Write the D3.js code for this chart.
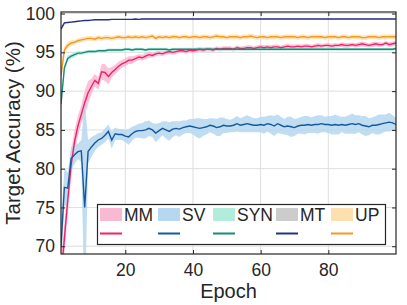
<!DOCTYPE html>
<html>
<head>
<meta charset="utf-8">
<script src="https://cdn.jsdelivr.net/npm/d3@7"></script>
<style>
  body { margin: 0; background: #fff; }
  text { font-family: "Liberation Sans", Arial, Helvetica, sans-serif; fill: #262626; }
</style>
</head>
<body>
<div id="chart"></div>
<script>
// data (mean and spread per epoch)
const epochs = d3.range(1, 101);
const seriesNames = ["MM", "SV", "SYN", "MT", "UP"];

const mmMean = [66.0, 71.0, 76.0, 80.5, 83.5, 85.5, 87.0, 88.5, 89.8, 90.6,
  91.4, 91.0, 92.5, 92.4, 91.9, 92.4, 92.8, 93.2, 93.5, 93.7,
  94.0, 94.0, 94.2, 94.4, 94.3, 94.5, 94.7, 94.6, 94.8, 94.9,
  94.8, 95.0, 95.1, 95.0, 95.1, 95.2, 95.2, 95.1, 95.3, 95.2,
  95.3, 95.4, 95.3, 95.4, 95.4, 95.3, 95.5, 95.4, 95.5, 95.5,
  95.5, 95.4, 95.6, 95.5, 95.5, 95.6, 95.6, 95.5, 95.6, 95.7,
  95.6, 95.7, 95.6, 95.7, 95.7, 95.6, 95.7, 95.8, 95.7, 95.7,
  95.8, 95.7, 95.8, 95.8, 95.7, 95.8, 95.9, 95.8, 95.9, 95.9,
  95.8, 95.9, 95.9, 96.0, 95.9, 95.9, 96.0, 95.9, 96.0, 96.1,
  96.0, 95.9, 96.0, 96.1, 96.0, 96.0, 96.2, 96.0, 96.1, 96.2];
const mmStd = [2.0, 2.0, 1.8, 1.8, 1.5, 1.3, 1.2, 1.5, 1.5, 1.0,
  0.8, 0.8, 1.0, 1.1, 1.0, 0.7, 0.6, 0.6, 0.5, 0.5,
  0.5, 0.5, 0.4, 0.4, 0.4, 0.4, 0.4, 0.3, 0.3, 0.3,
  0.3, 0.3, 0.3, 0.3, 0.3, 0.3, 0.3, 0.3, 0.3, 0.3,
  0.3, 0.3, 0.3, 0.3, 0.3, 0.3, 0.3, 0.3, 0.3, 0.3,
  0.3, 0.3, 0.3, 0.25, 0.3, 0.3, 0.3, 0.25, 0.3, 0.3,
  0.3, 0.25, 0.3, 0.3, 0.3, 0.25, 0.3, 0.3, 0.3, 0.3,
  0.25, 0.3, 0.3, 0.3, 0.25, 0.3, 0.3, 0.3, 0.25, 0.3,
  0.3, 0.3, 0.25, 0.3, 0.3, 0.3, 0.25, 0.3, 0.3, 0.3,
  0.3, 0.25, 0.3, 0.3, 0.3, 0.25, 0.3, 0.3, 0.3, 0.3];

const svMean = [70.0, 77.6, 77.5, 81.3, 81.8, 82.2, 82.3, 75.0, 82.2, 82.8,
  83.3, 83.7, 83.9, 84.3, 84.8, 83.7, 84.5, 84.4, 84.4, 84.2,
  84.1, 84.5, 84.8, 84.9, 84.9, 85.0, 85.2, 85.0, 84.6, 84.9,
  85.2, 85.0, 84.8, 85.1, 85.2, 85.1, 85.3, 85.4, 85.5, 85.4,
  85.3, 85.2, 85.3, 85.4, 85.6, 85.5, 85.3, 85.4, 85.6, 85.5,
  85.5, 85.6, 85.8, 85.6, 85.7, 85.8, 85.7, 85.6, 85.6, 85.7,
  85.6, 85.8, 85.7, 85.5, 85.8, 85.6, 85.4, 85.5, 85.4, 85.3,
  85.5, 85.6, 85.6, 85.7, 85.6, 85.7, 85.7, 85.8, 85.7, 85.7,
  85.6, 85.7, 85.6, 85.7, 85.6, 85.7, 85.8, 85.7, 85.8, 85.6,
  85.5, 85.4, 85.6, 85.6, 85.7, 85.8, 85.9, 86.0, 85.9, 85.7];
const svStd = [3.0, 2.5, 2.0, 1.5, 1.2, 1.0, 1.4, 14.0, 1.5, 1.3,
  1.0, 0.9, 0.8, 0.9, 0.9, 1.1, 0.8, 0.7, 0.7, 0.8,
  1.0, 0.9, 0.8, 0.9, 1.0, 1.1, 1.0, 0.9, 1.2, 1.0,
  0.9, 1.1, 1.2, 1.0, 0.9, 1.0, 0.9, 0.8, 0.9, 1.0,
  1.2, 1.3, 1.1, 1.0, 0.9, 1.0, 1.1, 1.2, 1.0, 0.9,
  0.8, 0.9, 1.0, 0.9, 1.0, 1.1, 1.0, 0.9, 0.9, 1.0,
  1.1, 1.0, 1.2, 1.3, 1.2, 1.1, 1.0, 1.2, 1.3, 1.1,
  1.0, 1.1, 1.2, 1.1, 1.0, 1.1, 1.2, 1.1, 1.0, 1.1,
  1.2, 1.3, 1.2, 1.0, 1.1, 1.2, 1.3, 1.2, 1.1, 1.2,
  1.3, 1.1, 1.0, 1.2, 1.3, 1.2, 1.1, 1.2, 1.0, 0.9];

const synMean = [88.3, 93.0, 94.2, 94.5, 94.7, 94.9, 94.9, 95.0, 95.1, 95.1,
  95.1, 95.2, 95.2, 95.2, 95.3, 95.3, 95.3, 95.3, 95.3, 95.4,
  95.4, 95.3, 95.4, 95.4, 95.4, 95.3, 95.4, 95.4, 95.4, 95.4,
  95.4, 95.4, 95.3, 95.4, 95.4, 95.4, 95.4, 95.4, 95.4, 95.4,
  95.4, 95.4, 95.4, 95.4, 95.4, 95.4, 95.4, 95.4, 95.4, 95.4,
  95.4, 95.4, 95.4, 95.4, 95.4, 95.4, 95.4, 95.4, 95.4, 95.4,
  95.4, 95.4, 95.4, 95.4, 95.4, 95.4, 95.4, 95.4, 95.4, 95.4,
  95.4, 95.4, 95.4, 95.4, 95.4, 95.4, 95.4, 95.4, 95.4, 95.4,
  95.4, 95.4, 95.4, 95.4, 95.4, 95.4, 95.4, 95.4, 95.4, 95.4,
  95.4, 95.4, 95.4, 95.4, 95.4, 95.4, 95.4, 95.4, 95.4, 95.5];
const synStd = [0.8, 0.5, 0.4, 0.3, 0.3, 0.25, 0.25, 0.2, 0.2, 0.2,
  0.2, 0.2, 0.2, 0.2, 0.2, 0.2, 0.2, 0.2, 0.2, 0.2,
  0.2, 0.2, 0.2, 0.2, 0.2, 0.2, 0.2, 0.2, 0.2, 0.2,
  0.2, 0.2, 0.2, 0.2, 0.2, 0.2, 0.2, 0.2, 0.2, 0.2,
  0.2, 0.2, 0.2, 0.2, 0.2, 0.2, 0.2, 0.2, 0.2, 0.2,
  0.2, 0.2, 0.2, 0.2, 0.2, 0.2, 0.2, 0.2, 0.2, 0.2,
  0.2, 0.2, 0.2, 0.2, 0.2, 0.2, 0.2, 0.2, 0.2, 0.2,
  0.2, 0.2, 0.2, 0.2, 0.2, 0.2, 0.2, 0.2, 0.2, 0.2,
  0.2, 0.2, 0.2, 0.2, 0.2, 0.2, 0.2, 0.2, 0.2, 0.2,
  0.2, 0.2, 0.2, 0.2, 0.2, 0.2, 0.2, 0.2, 0.2, 0.2];

const mtMean = [98.0, 98.8, 98.85, 98.9, 98.95, 99.0, 99.05, 99.1, 99.1, 99.15,
  99.2, 99.2, 99.2, 99.2, 99.2, 99.25, 99.25, 99.25, 99.25, 99.25,
  99.25, 99.25, 99.3, 99.25, 99.3, 99.3, 99.3, 99.3, 99.3, 99.3,
  99.3, 99.3, 99.3, 99.3, 99.3, 99.3, 99.3, 99.3, 99.3, 99.3,
  99.3, 99.3, 99.3, 99.3, 99.3, 99.3, 99.3, 99.3, 99.3, 99.3,
  99.3, 99.3, 99.3, 99.3, 99.3, 99.3, 99.3, 99.3, 99.3, 99.3,
  99.3, 99.3, 99.3, 99.3, 99.3, 99.3, 99.3, 99.3, 99.3, 99.3,
  99.3, 99.3, 99.3, 99.3, 99.3, 99.3, 99.3, 99.3, 99.3, 99.3,
  99.3, 99.3, 99.3, 99.3, 99.3, 99.3, 99.3, 99.3, 99.3, 99.3,
  99.3, 99.3, 99.3, 99.3, 99.3, 99.3, 99.3, 99.3, 99.3, 99.3];
const mtStd = [0.15, 0.1, 0.08, 0.06, 0.05, 0.05, 0.05, 0.05, 0.05, 0.05,
  0.05, 0.05, 0.05, 0.05, 0.05, 0.05, 0.05, 0.05, 0.05, 0.05,
  0.05, 0.05, 0.05, 0.05, 0.05, 0.05, 0.05, 0.05, 0.05, 0.05,
  0.05, 0.05, 0.05, 0.05, 0.05, 0.05, 0.05, 0.05, 0.05, 0.05,
  0.05, 0.05, 0.05, 0.05, 0.05, 0.05, 0.05, 0.05, 0.05, 0.05,
  0.05, 0.05, 0.05, 0.05, 0.05, 0.05, 0.05, 0.05, 0.05, 0.05,
  0.05, 0.05, 0.05, 0.05, 0.05, 0.05, 0.05, 0.05, 0.05, 0.05,
  0.05, 0.05, 0.05, 0.05, 0.05, 0.05, 0.05, 0.05, 0.05, 0.05,
  0.05, 0.05, 0.05, 0.05, 0.05, 0.05, 0.05, 0.05, 0.05, 0.05,
  0.05, 0.05, 0.05, 0.05, 0.05, 0.05, 0.05, 0.05, 0.05, 0.05];

const upMean = [92.0, 95.3, 95.9, 96.2, 96.3, 96.5, 96.6, 96.7, 96.8, 96.8,
  96.7, 96.9, 96.8, 96.9, 96.9, 96.8, 96.9, 97.0, 96.9, 96.9,
  97.0, 96.9, 97.0, 96.9, 97.0, 96.9, 97.0, 97.1, 96.8, 97.0,
  96.9, 97.0, 96.9, 97.0, 97.0, 96.9, 97.0, 97.0, 96.9, 97.0,
  97.0, 96.9, 97.0, 97.0, 96.9, 97.0, 97.1, 97.0, 97.0, 96.9,
  97.0, 97.0, 97.0, 96.9, 97.0, 97.0, 97.1, 97.0, 96.9, 97.0,
  97.0, 96.9, 97.0, 97.0, 97.0, 96.9, 97.0, 97.0, 97.0, 97.0,
  96.9, 97.0, 97.0, 96.9, 97.0, 97.0, 97.0, 97.0, 96.9, 97.0,
  97.0, 97.0, 96.9, 97.0, 97.0, 96.9, 97.0, 97.0, 97.0, 96.9,
  96.9, 97.0, 97.0, 97.0, 96.9, 97.0, 97.0, 97.0, 97.0, 97.0];
const upStd = [1.0, 0.5, 0.4, 0.35, 0.3, 0.3, 0.3, 0.3, 0.3, 0.3,
  0.3, 0.3, 0.3, 0.3, 0.3, 0.3, 0.3, 0.3, 0.3, 0.3,
  0.3, 0.3, 0.3, 0.3, 0.3, 0.3, 0.3, 0.3, 0.3, 0.3,
  0.3, 0.3, 0.3, 0.3, 0.3, 0.3, 0.3, 0.3, 0.3, 0.3,
  0.3, 0.3, 0.3, 0.3, 0.3, 0.3, 0.3, 0.3, 0.3, 0.3,
  0.3, 0.3, 0.3, 0.3, 0.3, 0.3, 0.3, 0.3, 0.3, 0.3,
  0.3, 0.3, 0.3, 0.3, 0.3, 0.3, 0.3, 0.3, 0.3, 0.3,
  0.3, 0.3, 0.3, 0.3, 0.3, 0.3, 0.3, 0.3, 0.3, 0.3,
  0.3, 0.3, 0.3, 0.3, 0.3, 0.3, 0.3, 0.3, 0.3, 0.3,
  0.3, 0.3, 0.3, 0.3, 0.3, 0.3, 0.3, 0.3, 0.3, 0.3];

const xTicks = [20, 40, 60, 80];
const yTicks = [70, 75, 80, 85, 90, 95, 100];

// styles
const lineColors = ["#f71e66", "#15599c", "#1b8a7a", "#283282", "#f59a1a"];
const fillColors = ["#f9b9d3", "#b5d7ef", "#b2ecdc", "#cccccc", "#fddfb0"];

const series = [
  {mean: mmMean, std: mmStd},
  {mean: svMean, std: svStd},
  {mean: synMean, std: synStd},
  {mean: mtMean, std: mtStd},
  {mean: upMean, std: upStd}
].map((s, i) => ({
  name: seriesNames[i],
  line: lineColors[i],
  fill: fillColors[i],
  points: epochs.map((e, j) => ({epoch: e, value: s.mean[j], sd: s.std[j]}))
}));

// chart size
const W = 407, H = 305;
const margin = {top: 12, right: 11, bottom: 51, left: 61};
const width = W - margin.left - margin.right;
const height = H - margin.top - margin.bottom;

const svg = d3.select("#chart")
    .append("svg")
    .attr("width", W)
    .attr("height", H);

const g = svg.append("g")
    .attr("transform", `translate(${margin.left},${margin.top})`);

const x = d3.scaleLinear().domain([1, 100]).range([0, width]);
const y = d3.scaleLinear().domain([69, 100.2]).range([height, 0]);

// grid
g.append("g").selectAll("line").data(xTicks).join("line")
    .attr("x1", d => x(d)).attr("x2", d => x(d))
    .attr("y1", 0).attr("y2", height)
    .attr("stroke", "#dedede").attr("stroke-width", 1);
g.append("g").selectAll("line").data(yTicks).join("line")
    .attr("x1", 0).attr("x2", width)
    .attr("y1", d => y(d)).attr("y2", d => y(d))
    .attr("stroke", "#dedede").attr("stroke-width", 1);

// clip
svg.append("defs").append("clipPath").attr("id", "clip")
  .append("rect").attr("width", width).attr("height", height);

const plot = g.append("g").attr("clip-path", "url(#clip)");

const area = d3.area()
    .x(d => x(d.epoch))
    .y0(d => y(d.value - d.sd))
    .y1(d => y(d.value + d.sd));

const line = d3.line()
    .x(d => x(d.epoch))
    .y(d => y(d.value));

plot.selectAll(".band").data(series).join("path")
    .attr("class", "band")
    .attr("d", d => area(d.points))
    .attr("fill", d => d.fill)
    .attr("fill-opacity", 0.85)
    .attr("stroke", "none");

plot.selectAll(".line").data(series).join("path")
    .attr("class", "line")
    .attr("d", d => line(d.points))
    .attr("fill", "none")
    .attr("stroke", d => d.line)
    .attr("stroke-width", 1.4);

// axes (inward ticks, box)
const axisColor = "#262626";
const xAxis = g.append("g")
    .attr("transform", `translate(0,${height})`)
    .call(d3.axisBottom(x).tickValues(xTicks).tickSizeInner(-4).tickSizeOuter(0).tickPadding(10));
const yAxis = g.append("g")
    .call(d3.axisLeft(y).tickValues(yTicks).tickSizeInner(-4).tickSizeOuter(0).tickPadding(6));
const xTop = g.append("g")
    .call(d3.axisTop(x).tickValues(xTicks).tickSizeInner(-4).tickSizeOuter(0).tickFormat(""));
const yRight = g.append("g")
    .attr("transform", `translate(${width},0)`)
    .call(d3.axisRight(y).tickValues(yTicks).tickSizeInner(-4).tickSizeOuter(0).tickFormat(""));

[xAxis, yAxis, xTop, yRight].forEach(a => {
  a.select(".domain").remove();
  a.selectAll("line").attr("stroke", axisColor);
  a.selectAll("text")
    .style("font-size", "17.5px")
    .style("font-family", "'Liberation Sans', Arial, sans-serif")
    .attr("fill", axisColor);
});

g.append("rect")
    .attr("width", width).attr("height", height)
    .attr("fill", "none")
    .attr("stroke", axisColor)
    .attr("stroke-width", 1.2);

// axis labels
svg.append("text")
    .attr("x", margin.left + width / 2)
    .attr("y", 298)
    .attr("text-anchor", "middle")
    .style("font-size", "20px")
    .text("Epoch");

svg.append("text")
    .attr("transform", `translate(20,${margin.top + height / 2}) rotate(-90)`)
    .attr("text-anchor", "middle")
    .style("font-size", "20.5px")
    .text("Target Accuracy (%)");

// legend
const legendX = [100, 158, 213, 276, 331];
const legend = svg.append("g");
legend.append("rect")
    .attr("x", 97.5).attr("y", 204.5)
    .attr("width", 288).attr("height", 40)
    .attr("fill", "#fff")
    .attr("stroke", axisColor)
    .attr("stroke-width", 1.2);

const items = legend.selectAll(".item").data(series).join("g")
    .attr("class", "item")
    .attr("transform", (d, i) => `translate(${legendX[i]},0)`);

items.append("rect")
    .attr("x", 0).attr("y", 208)
    .attr("width", 22).attr("height", 13)
    .attr("fill", d => d.fill);

items.append("text")
    .attr("x", 24).attr("y", 221)
    .style("font-size", "17.5px")
    .text(d => d.name);

items.append("line")
    .attr("x1", 0).attr("x2", 22)
    .attr("y1", 233.5).attr("y2", 233.5)
    .attr("stroke", d => d.line)
    .attr("stroke-width", 2);
</script>
</body>
</html>
